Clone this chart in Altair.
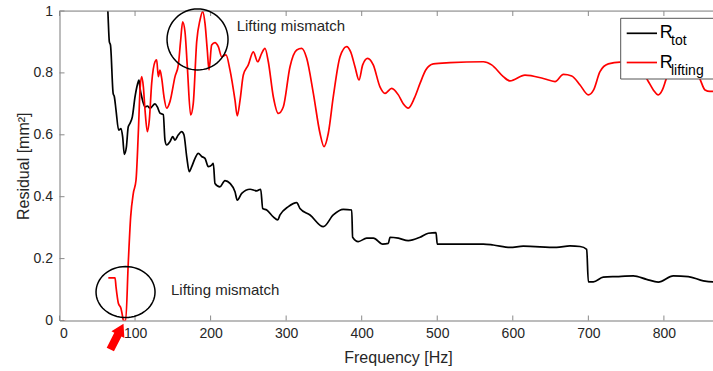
import math
import altair as alt
import pandas as pd

# ---------------- data ----------------
tot_freq = [63, 64, 66, 67.5, 71, 72.6, 74.8, 78.3, 81.4, 83.6, 85.8, 88.5, 91, 93.3, 96.4, 100,
            103, 105.2, 106.6, 108.8, 113.2, 116.3, 119.8, 126.4, 129.5, 133, 137.4, 139.6, 141.9,
            146.3, 149.8, 152.9, 157.3, 161.7, 164.7, 168.4, 171.8, 175, 179.4, 183.7, 188.2,
            192.6, 197, 201.4, 203.6, 205.8, 212.4, 219, 225.7, 232.3, 235.3, 241.2, 252.2, 261,
            266.3, 269, 274.3, 283, 288.8, 291.9, 302.9, 314, 318.3, 331.6, 349.2, 362.4, 375.6,
            386.8, 388, 395.5, 406.6, 415.5, 427.8, 435.2, 437.5, 448.5, 461.7, 477.2, 488.2,
            498.4, 500, 521.2, 561, 574, 596.3, 613.9, 658, 675.7, 689, 697.8, 700, 706.6, 719.8,
            737.5, 759.5, 777, 792.6, 812.5, 832.3, 852.2, 865, 870]
tot_res = [1.05, 1.0, 0.90, 0.89, 0.734, 0.723, 0.68, 0.615, 0.62, 0.593, 0.537, 0.56, 0.626, 0.637,
           0.658, 0.723, 0.761, 0.777, 0.75, 0.723, 0.69, 0.693, 0.686, 0.70, 0.69, 0.67, 0.665,
           0.583, 0.567, 0.578, 0.594, 0.583, 0.60, 0.61, 0.60, 0.529, 0.481, 0.497, 0.524, 0.54,
           0.53, 0.524, 0.497, 0.502, 0.508, 0.443, 0.432, 0.452, 0.443, 0.416, 0.389, 0.411,
           0.424, 0.419, 0.424, 0.362, 0.357, 0.335, 0.325, 0.341, 0.368, 0.381, 0.362, 0.341,
           0.303, 0.341, 0.359, 0.357, 0.269, 0.255, 0.266, 0.266, 0.247, 0.249, 0.269, 0.266,
           0.258, 0.269, 0.282, 0.284, 0.247, 0.247, 0.247, 0.244, 0.236, 0.24, 0.236, 0.241,
           0.239, 0.23, 0.125, 0.125, 0.14, 0.142, 0.144, 0.133, 0.124, 0.144, 0.142, 0.128,
           0.125, 0.125]

lift_freq = [64.6, 73.5, 74.8, 77.9, 81.4, 83.6, 84.5, 87.6, 91, 94.2, 97.7, 101.3, 104.3, 106.6,
             108.8, 111, 113.2, 116.3, 118.9, 122, 126.4, 128.6, 130.8, 133, 135.3, 138.3, 141.9,
             146.3, 152.9, 157.3, 160.4, 163, 166.1, 169.2, 173.6, 177, 181.6, 186, 189.5, 192.6,
             195.6, 197.9, 201.4, 205.8, 210.2, 214.7, 220.4, 225.7, 232.3, 235.3, 239, 243.3,
             249.9, 256.5, 262.3, 267.6, 272, 276.4, 283, 289.6, 296.2, 305.1, 314, 320.6, 327.2,
             336, 344.8, 350.1, 355.8, 362.4, 371.3, 380.1, 385.4, 391.1, 396.4, 401.3, 407.9,
             415.3, 424.2, 430.8, 439.7, 448.5, 455, 461.7, 470, 477.2, 485, 494.8, 516.9, 561,
             572, 587.4, 596.3, 616.1, 640.4, 655.9, 667, 678, 689, 700, 707, 715.4, 726.4, 742,
             762, 779, 786, 792.6, 798, 803, 812, 825, 840, 847.8, 854.4, 861, 870]
lift_res = [0.138, 0.138, 0.109, 0.056, 0.039, 0.012, 0.0, 0.0, 0.185, 0.335, 0.411, 0.454, 0.605,
            0.745, 0.788, 0.755, 0.68, 0.61, 0.648, 0.766, 0.836, 0.842, 0.788, 0.809, 0.782,
            0.723, 0.686, 0.708, 0.788, 0.826, 0.906, 0.965, 0.933, 0.82, 0.664, 0.70, 0.901,
            0.971, 0.998, 0.96, 0.874, 0.81, 0.89, 0.898, 0.885, 0.852, 0.858, 0.809, 0.712,
            0.661, 0.712, 0.793, 0.826, 0.868, 0.836, 0.863, 0.879, 0.836, 0.723, 0.669, 0.69,
            0.82, 0.874, 0.879, 0.847, 0.734, 0.605, 0.562, 0.605, 0.723, 0.852, 0.885, 0.868,
            0.82, 0.777, 0.826, 0.847, 0.826, 0.755, 0.734, 0.75, 0.729, 0.70, 0.686, 0.72, 0.766,
            0.81, 0.829, 0.833, 0.836, 0.826, 0.788, 0.774, 0.793, 0.782, 0.772, 0.795, 0.79,
            0.761, 0.729, 0.745, 0.804, 0.829, 0.835, 0.83, 0.774, 0.745, 0.729, 0.745, 0.78,
            0.83, 0.84, 0.82, 0.78, 0.745, 0.74, 0.74]

x_ticks = [0, 100, 200, 300, 400, 500, 600, 700, 800]
y_ticks = [0, 0.2, 0.4, 0.6, 0.8, 1.0]

ann_text = ["Lifting mismatch", "Lifting mismatch"]
ann_f = [234.5, 147.6]
ann_r = [0.935, 0.082]

circle_f = [182.7]
circle_r = [0.908]
ellipse_f = [87.4]
ellipse_r = [0.092]
arrow_f = [76.0]
arrow_r = [-0.052]

series_main = ["R", "R"]
series_sub = ["tot", "lifting"]
series_color = ["#000000", "#ff0000"]

# ---------------- layout / style ----------------
W, H = 653.5, 309.5
FONT = "Liberation Sans"
AX = "#8a8a8a"
LAB = "#262626"

xs = alt.Scale(domain=[0, 865], nice=False, zero=False)
ys = alt.Scale(domain=[0, 1], nice=False, zero=False)

X_AXIS = alt.Axis(
    values=x_ticks, format="d", ticks=False, grid=False, domainColor=AX, domainWidth=1,
    labelFont=FONT, labelFontSize=14, labelColor=LAB, labelPadding=6,
    title="Frequency [Hz]", titleFont=FONT, titleFontSize=16, titleFontWeight="normal",
    titleColor=LAB, titleX=338.5, titleY=41.5, titleBaseline="alphabetic", titleAlign="center")
Y_AXIS = alt.Axis(
    values=y_ticks, format="~g", ticks=False, grid=False, domainColor=AX, domainWidth=1,
    labelFont=FONT, labelFontSize=14, labelColor=LAB, labelPadding=7,
    title="Residual [mm²]", titleFont=FONT, titleFontSize=16, titleFontWeight="normal",
    titleColor=LAB, titleX=-31, titleY=H / 2, titleBaseline="alphabetic", titleAlign="center")


def X(field):
    return alt.X(field, scale=xs, axis=X_AXIS)


def Y(field):
    return alt.Y(field, scale=ys, axis=Y_AXIS)


def ellipse_path(ry, n=64):
    pts = []
    for i in range(n):
        t = 2 * math.pi * i / n
        pts.append(f"{math.cos(t):.4f},{ry * math.sin(t):.4f}")
    return "M" + "L".join(pts) + "Z"


ARROW = "M0,-1L0.5,-0.15L0.28,-0.15L0.28,1L-0.28,1L-0.28,-0.15L-0.5,-0.15Z"

one = pd.DataFrame({"k": [0]})

black = alt.Chart(pd.DataFrame({"f": tot_freq, "r": tot_res})).mark_line(
    color=series_color[0], strokeWidth=1.7, interpolate="monotone", clip=True
).encode(x=X("f:Q"), y=Y("r:Q"))

red = alt.Chart(pd.DataFrame({"f": lift_freq, "r": lift_res})).mark_line(
    color=series_color[1], strokeWidth=1.7, interpolate="monotone", clip=True
).encode(x=X("f:Q"), y=Y("r:Q"))

# inward ticks and top frame
xt = pd.DataFrame({"f": x_ticks})
yt = pd.DataFrame({"r": y_ticks})
ticks_bottom = alt.Chart(xt).mark_rule(color=AX, strokeWidth=1).encode(
    x=X("f:Q"), y=alt.value(H), y2=alt.value(H - 5))
ticks_top = alt.Chart(xt).mark_rule(color=AX, strokeWidth=1).encode(
    x=X("f:Q"), y=alt.value(0), y2=alt.value(5))
ticks_left = alt.Chart(yt).mark_rule(color=AX, strokeWidth=1).encode(
    y=Y("r:Q"), x=alt.value(0), x2=alt.value(5))
top_frame = alt.Chart(one).mark_rule(color=AX, strokeWidth=1).encode(
    x=alt.value(0), x2=alt.value(W + 5), y=alt.value(0))

# annotations
ann = alt.Chart(pd.DataFrame({"f": ann_f, "r": ann_r, "t": ann_text})).mark_text(
    font=FONT, fontSize=15, color=LAB, align="left", baseline="alphabetic"
).encode(x=X("f:Q"), y=Y("r:Q"), text="t:N")

circ = alt.Chart(pd.DataFrame({"f": circle_f, "r": circle_r})).mark_point(
    shape=ellipse_path(1.0), size=61 * 61, filled=False, color="#000000", strokeWidth=1.5, opacity=1
).encode(x=X("f:Q"), y=Y("r:Q"))

ell = alt.Chart(pd.DataFrame({"f": ellipse_f, "r": ellipse_r})).mark_point(
    shape=ellipse_path(51 / 59), size=59 * 59, filled=False, color="#000000", strokeWidth=1.5, opacity=1
).encode(x=X("f:Q"), y=Y("r:Q"))

arrow = alt.Chart(pd.DataFrame({"f": arrow_f, "r": arrow_r})).mark_point(
    shape=ARROW, size=29 * 29, filled=True, color="#ff0000", opacity=1, angle=27, strokeWidth=0
).encode(x=X("f:Q"), y=Y("r:Q"))

# legend (drawn by hand for subscripts)
leg_box = alt.Chart(one).mark_rect(fill="white", stroke="#555555", strokeWidth=1).encode(
    x=alt.value(561.2), x2=alt.value(W + 20), y=alt.value(7.3), y2=alt.value(68))
leg_layers = [leg_box]
for i, (m, s, c) in enumerate(zip(series_main, series_sub, series_color)):
    dy = i * 29.2
    d = pd.DataFrame({"m": [m], "s": [s]})
    leg_layers.append(alt.Chart(d).mark_rule(color=c, strokeWidth=1.7).encode(
        x=alt.value(567.2), x2=alt.value(597.5), y=alt.value(22.3 + dy)))
    leg_layers.append(alt.Chart(d).mark_text(font=FONT, fontSize=18, color="#000000",
                                             align="left", baseline="alphabetic").encode(
        x=alt.value(600.3), y=alt.value(27.3 + dy), text="m:N"))
    leg_layers.append(alt.Chart(d).mark_text(font=FONT, fontSize=14, color="#000000",
                                             align="left", baseline="alphabetic").encode(
        x=alt.value(611.5), y=alt.value(34.3 + dy), text="s:N"))

chart = alt.layer(
    black, red, ticks_bottom, ticks_top, ticks_left, top_frame, circ, ell, ann, arrow, *leg_layers
).properties(
    width=W, height=H, autosize="none",
    padding={"left": 59.5, "top": 11, "right": 0, "bottom": 50.5},
).configure_view(stroke=None).configure(background="white")

chart.save("out.html", embed_options={"renderer": "svg", "actions": False})
